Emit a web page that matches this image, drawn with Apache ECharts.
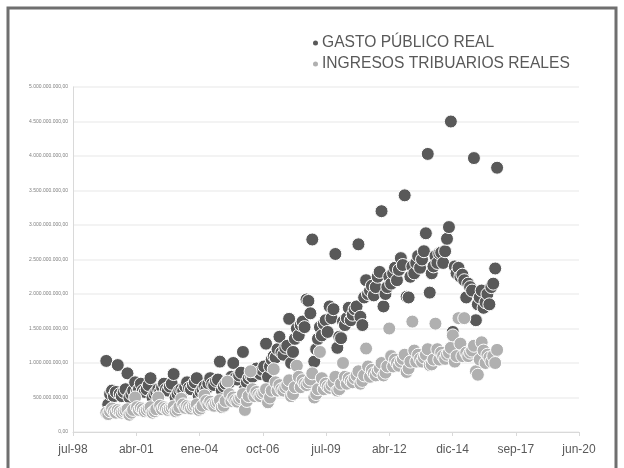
<!DOCTYPE html>
<html style="height: 100%">

<head>
    <meta charset="utf-8">
    <script src="https://cdn.jsdelivr.net/npm/echarts@6/dist/echarts.min.js"></script>
</head>

<body style="height: 100%; margin: 0; background: #fff">
    <div id="main" style="width: 624px;height:468px;"></div>
    <script type="text/javascript">
        // monthly series, Jan 2000 .. Dec 2016, in thousands of millions
        var startYear = 2000;
        var gasto = [
            1.03, 0.40, 0.55, 0.60, 0.52, 0.58, 0.97, 0.55, 0.52, 0.58, 0.62, 0.85,
            0.50, 0.55, 0.60, 0.72, 0.58, 0.62, 0.70, 0.60, 0.58, 0.62, 0.68, 0.78,
            0.50, 0.55, 0.58, 0.62, 0.58, 0.65, 0.70, 0.62, 0.60, 0.66, 0.70, 0.84,
            0.50, 0.55, 0.60, 0.62, 0.60, 0.66, 0.72, 0.64, 0.62, 0.68, 0.72, 0.78,
            0.52, 0.58, 0.62, 0.66, 0.62, 0.70, 0.78, 0.70, 0.68, 0.74, 0.76, 1.02,
            0.60, 0.66, 0.70, 0.74, 0.72, 0.80, 1.00, 0.78, 0.76, 0.82, 0.86, 1.16,
            0.62, 0.72, 0.78, 0.82, 0.80, 0.88, 0.92, 0.86, 0.84, 0.90, 0.95, 1.28,
            0.80, 0.95, 1.05, 1.10, 1.08, 1.20, 1.38, 1.15, 1.12, 1.22, 1.25, 1.64,
            1.00, 1.16, 1.35, 1.50, 1.40, 1.55, 1.60, 1.52, 1.92, 1.90, 1.72, 2.79,
            1.02, 1.20, 1.35, 1.52, 1.40, 1.57, 1.62, 1.45, 1.82, 1.65, 1.78, 2.58,
            1.22, 1.38, 1.36, 1.60, 1.55, 1.65, 1.80, 1.62, 1.70, 1.78, 1.82, 2.72,
            1.67, 1.55, 1.95, 2.20, 2.00, 2.05, 2.12, 1.98, 2.10, 2.25, 2.32, 3.20,
            1.82, 2.00, 2.10, 2.25, 2.15, 2.30, 2.38, 2.20, 2.35, 2.52, 2.42, 3.43,
            1.96, 1.95, 2.25, 2.40, 2.30, 2.45, 2.55, 2.38, 2.50, 2.62, 2.88, 4.03,
            2.02, 2.30, 2.40, 2.55, 2.45, 2.59, 2.60, 2.45, 2.62, 2.80, 2.97, 4.50,
            1.45, 2.40, 2.30, 2.38, 2.25, 2.28, 2.20, 1.95, 2.15, 2.10, 2.05, 3.97,
            1.62, 1.85, 1.95, 2.05, 1.80, 1.88, 2.00, 1.85, 2.10, 2.15, 2.37, 3.83
        ];
        var ingresos = [
            0.28, 0.26, 0.30, 0.34, 0.30, 0.28, 0.32, 0.30, 0.28, 0.30, 0.31, 0.33,
            0.25, 0.28, 0.32, 0.50, 0.36, 0.32, 0.35, 0.33, 0.30, 0.32, 0.34, 0.36,
            0.28, 0.30, 0.33, 0.50, 0.38, 0.33, 0.36, 0.34, 0.32, 0.34, 0.35, 0.37,
            0.30, 0.32, 0.36, 0.48, 0.40, 0.35, 0.38, 0.36, 0.34, 0.37, 0.38, 0.40,
            0.32, 0.34, 0.38, 0.53, 0.45, 0.40, 0.44, 0.40, 0.38, 0.42, 0.43, 0.46,
            0.36, 0.38, 0.45, 0.73, 0.55, 0.45, 0.50, 0.46, 0.44, 0.48, 0.50, 0.55,
            0.32, 0.45, 0.52, 0.88, 0.62, 0.52, 0.58, 0.54, 0.52, 0.56, 0.58, 0.62,
            0.43, 0.50, 0.60, 0.91, 0.72, 0.60, 0.68, 0.62, 0.60, 0.65, 0.68, 0.75,
            0.52, 0.55, 0.65, 0.96, 0.80, 0.65, 0.75, 0.70, 0.68, 0.72, 0.76, 0.85,
            0.50, 0.55, 0.62, 1.16, 0.78, 0.62, 0.70, 0.66, 0.64, 0.68, 0.72, 0.80,
            0.60, 0.62, 0.70, 1.00, 0.80, 0.70, 0.78, 0.74, 0.72, 0.78, 0.82, 0.88,
            0.70, 0.74, 0.82, 1.21, 0.95, 0.80, 0.90, 0.85, 0.82, 0.88, 0.92, 1.00,
            0.82, 0.86, 0.95, 1.50, 1.10, 0.95, 1.05, 1.00, 0.96, 1.02, 1.06, 1.12,
            0.87, 0.92, 1.02, 1.60, 1.18, 1.02, 1.12, 1.06, 1.02, 1.08, 1.12, 1.20,
            0.97, 0.98, 1.05, 1.57, 1.20, 1.05, 1.15, 1.10, 1.06, 1.12, 1.15, 1.22,
            1.40, 1.02, 1.10, 1.65, 1.28, 1.10, 1.65, 1.15, 1.10, 1.15, 1.18, 1.25,
            0.88, 0.83, 1.05, 1.30, 1.18, 1.00, 1.12, 1.08, 1.02, 1.10, 1.00, 1.19
        ];
        var meses = ['ene', 'feb', 'mar', 'abr', 'may', 'jun', 'jul', 'ago', 'sep', 'oct', 'nov', 'dic'];

        // excel style day serials for the x axis
        var base = Date.UTC(1899, 11, 30);
        function serial(i) {
            return (Date.UTC(startYear + Math.floor(i / 12), i % 12, 1) - base) / 86400000;
        }
        function toPoints(arr) {
            return arr.map(function (v, i) {
                return [serial(i), v * 1e9];
            });
        }
        function fmtFecha(v) {
            var d = new Date(base + v * 86400000);
            return meses[d.getUTCMonth()] + '-' + String(d.getUTCFullYear()).slice(2);
        }
        function fmtNum(v) {
            return String(Math.round(v)).replace(/\B(?=(\d{3})+(?!\d))/g, '.') + ',00';
        }

        var myChart = echarts.init(document.getElementById('main'));
        myChart.setOption({
            animation: false,
            textStyle: { fontFamily: 'Liberation Sans, Arial, sans-serif' },
            graphic: [{
                type: 'rect',
                shape: { x: 8, y: 8, width: 608, height: 500 },
                style: { fill: 'none', stroke: '#6f6f6f', lineWidth: 3 }
            }],
            legend: {
                orient: 'vertical',
                left: 306,
                top: 30,
                icon: 'circle',
                itemWidth: 7,
                itemHeight: 7,
                itemGap: 5,
                textStyle: { fontSize: 15.6, color: '#595959', padding: [0, 0, 0, -2] },
                data: ['GASTO PÚBLICO REAL', 'INGRESOS TRIBUARIOS REALES']
            },
            grid: { left: 73, right: 45, top: 87, bottom: 36 },
            xAxis: {
                type: 'value',
                min: 36000,
                max: 44000,
                interval: 1000,
                splitLine: { show: false },
                axisLine: { lineStyle: { color: '#d9d9d9' } },
                axisTick: { lineStyle: { color: '#d9d9d9' }, length: 4 },
                axisLabel: { formatter: fmtFecha, fontSize: 12, color: '#595959', margin: 12 }
            },
            yAxis: {
                type: 'value',
                min: 0,
                max: 5e9,
                interval: 5e8,
                axisLine: { show: true, lineStyle: { color: '#d9d9d9' } },
                axisTick: { show: false },
                splitLine: { lineStyle: { color: '#efefef', width: 1.5 } },
                axisLabel: { formatter: fmtNum, fontSize: 5, color: '#7f7f7f', margin: 5 }
            },
            series: [{
                name: 'GASTO PÚBLICO REAL',
                type: 'scatter',
                symbolSize: 13,
                itemStyle: { color: '#595959', borderColor: '#ffffff', borderWidth: 1, opacity: 1 },
                data: toPoints(gasto)
            }, {
                name: 'INGRESOS TRIBUARIOS REALES',
                type: 'scatter',
                symbolSize: 13,
                itemStyle: { color: '#b0b0b0', borderColor: '#ffffff', borderWidth: 1, opacity: 1 },
                data: toPoints(ingresos)
            }]
        });
    </script>
</body>

</html>
